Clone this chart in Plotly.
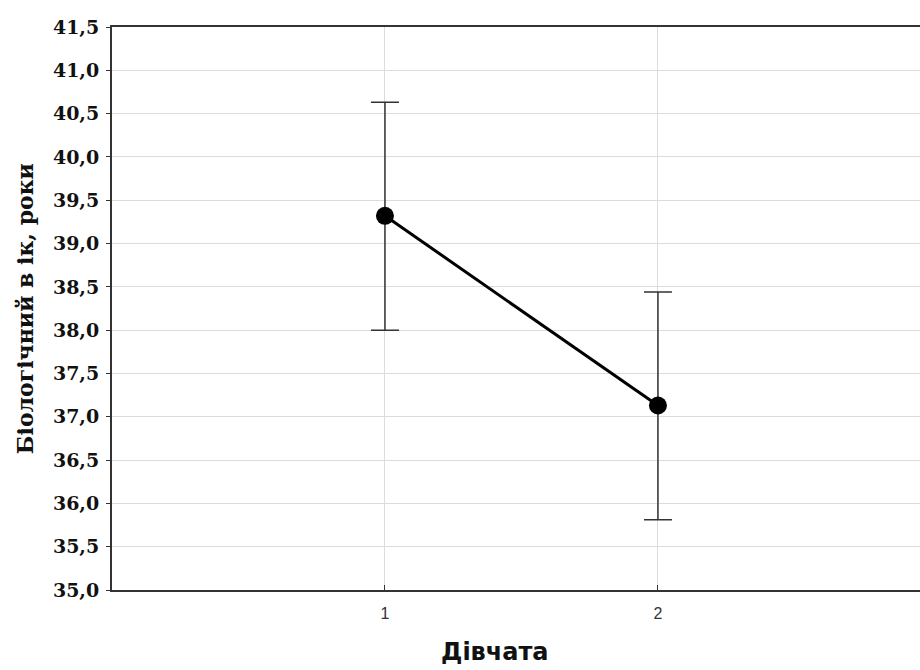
import plotly.graph_objects as go

groups = [1, 2]
means = [39.32, 37.13]
upper = [40.63, 38.44]
lower = [38.00, 35.81]

err_plus = [u - m for u, m in zip(upper, means)]
err_minus = [m - l for m, l in zip(means, lower)]

fig = go.Figure()
fig.add_trace(go.Scatter(
    x=groups, y=means, mode="lines+markers",
    line=dict(color="black", width=3),
    marker=dict(color="black", size=18),
    error_y=dict(type="data", symmetric=False, array=err_plus, arrayminus=err_minus,
                 color="#333333", thickness=1.5, width=14),
    showlegend=False,
))

fig.update_layout(
    width=920, height=670,
    margin=dict(l=112, r=0, t=27, b=80),
    paper_bgcolor="white", plot_bgcolor="white",
    separators=", ",
    xaxis=dict(range=[0, 2.96], tickvals=[1, 2], ticktext=["1", "2"],
               showgrid=True, gridcolor="#dcdcdc", gridwidth=1,
               showline=True, linecolor="#333333", linewidth=2, mirror=True,
               ticks="inside", ticklen=5, tickcolor="#333333",
               ticklabelstandoff=8,
               tickfont=dict(family="Liberation Sans", size=16, color="#333333"),
               zeroline=False),
    yaxis=dict(range=[35, 41.5], tickvals=[35 + 0.5 * i for i in range(14)],
               tickformat=".1f",
               showgrid=True, gridcolor="#dcdcdc", gridwidth=1,
               showline=True, linecolor="#333333", linewidth=2, mirror=False,
               ticks="outside", ticklen=4, tickcolor="#333333",
               ticklabelstandoff=3,
               tickfont=dict(family="DejaVu Serif", size=19, color="#111111",
                             weight="bold"),
               zeroline=False),
)

fig.add_annotation(text="Біологічний в ік, роки", xref="paper", yref="paper",
                   x=-0.108, y=0.5, textangle=-90, showarrow=False,
                   xanchor="center", yanchor="middle",
                   font=dict(family="DejaVu Serif", size=22, color="#111111",
                             weight="bold"))
fig.add_annotation(text="<b>Дівчата</b>", xref="paper", yref="paper",
                   x=(495 - 112) / 808, y=-0.11, showarrow=False,
                   xanchor="center", yanchor="middle",
                   font=dict(family="DejaVu Sans", size=24, color="#111111"))

fig.write_html("out.html")
